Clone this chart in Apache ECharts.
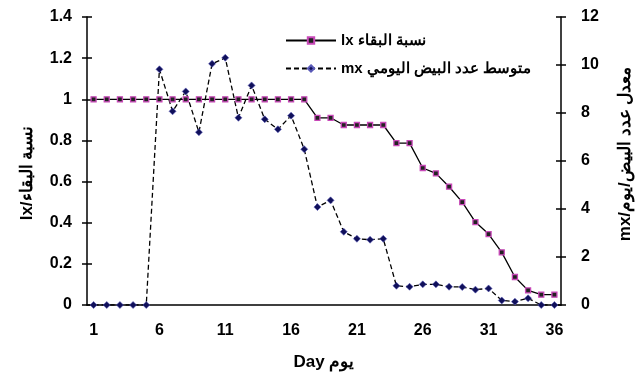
<!DOCTYPE html>
<html><head><meta charset="utf-8">
<script src="https://cdn.jsdelivr.net/npm/echarts@6/dist/echarts.min.js"></script>
<style>html,body{margin:0;padding:0;background:#fff}#c{width:639px;height:377px}</style>
</head><body><div id="c"></div>
<script>
var days = [];
for (var d = 1; d <= 36; d++) days.push(String(d));
var lxValues = [1,1,1,1,1,1,1,1,1,1,1,1,1,1,1,1,1,0.91,0.91,0.875,0.875,0.875,0.875,0.787,0.787,0.666,0.64,0.575,0.5,0.403,0.345,0.256,0.136,0.071,0.05,0.05];
var mxValues = [0,0,0,0,0,9.82,8.07,8.9,7.2,10.05,10.3,7.8,9.15,7.74,7.32,7.89,6.49,4.08,4.36,3.05,2.76,2.72,2.76,0.8,0.76,0.86,0.86,0.76,0.75,0.64,0.69,0.19,0.14,0.28,0,0];
var lxName = 'lx نسبة البقاء';
var mxName = 'mx متوسط عدد البيض اليومي';
var xTitle = 'Day يوم';
var yLeftTitle = 'lx/نسبة البقاء';
var yRightTitle = 'mx/معدل عدد البيض/يوم';

var font = 'Arial, "Liberation Sans", sans-serif';
var chart = echarts.init(document.getElementById('c'), null, {renderer: 'canvas'});
var axisLineStyle = {color: '#000', width: 1.5};
var tickStyle = {color: '#000', width: 1.5};
function innerTickAxis(pos, min, max, interval) {
  return {
    type: 'value', min: min, max: max, interval: interval, position: pos,
    axisLine: {show: false},
    axisTick: {show: true, inside: true, length: 5, lineStyle: tickStyle},
    axisLabel: {show: false}, splitLine: {show: false}
  };
}
chart.setOption({
  animation: false,
  backgroundColor: '#fff',
  grid: {left: 87, right: 78, top: 17, bottom: 72, outerBoundsMode: 'none', containLabel: false},
  legend: {
    orient: 'vertical', left: 285, top: 33, padding: 0, itemWidth: 50, itemHeight: 8, itemGap: 13,
    textStyle: {fontFamily: font, fontWeight: 'bold', fontSize: 15, color: '#000'},
    data: [lxName, mxName]
  },
  xAxis: {
    type: 'category', data: days, boundaryGap: true,
    name: xTitle, nameLocation: 'middle', nameGap: 49,
    nameTextStyle: {fontFamily: font, fontWeight: 'bold', fontSize: 17, color: '#000'},
    axisLine: {lineStyle: axisLineStyle},
    axisTick: {interval: 0, length: 5, lineStyle: tickStyle},
    axisLabel: {interval: 4, margin: 18, fontFamily: font, fontWeight: 'bold', fontSize: 16, color: '#000'},
    splitLine: {show: false}
  },
  yAxis: [{
    type: 'value', min: 0, max: 1.4, interval: 0.2, position: 'left',
    name: yLeftTitle, nameLocation: 'middle', nameGap: 51, nameRotate: 90,
    nameTextStyle: {fontFamily: font, fontWeight: 'bold', fontSize: 17, color: '#000', padding: [0, 24, 0, 0]},
    axisLine: {show: true, lineStyle: axisLineStyle},
    axisTick: {show: true, length: 5, lineStyle: tickStyle},
    axisLabel: {margin: 15, fontFamily: font, fontWeight: 'bold', fontSize: 16, color: '#000'},
    splitLine: {show: false}
  }, {
    type: 'value', min: 0, max: 12, interval: 2, position: 'right',
    name: yRightTitle, nameLocation: 'middle', nameGap: 56, nameRotate: 90,
    nameTextStyle: {fontFamily: font, fontWeight: 'bold', fontSize: 17, color: '#000', padding: [0, 0, 0, 14]},
    axisLine: {show: true, lineStyle: axisLineStyle},
    axisTick: {show: true, length: 5, lineStyle: tickStyle},
    axisLabel: {margin: 20, fontFamily: font, fontWeight: 'bold', fontSize: 16, color: '#000'},
    splitLine: {show: false}
  },
  innerTickAxis('left', 0, 1.4, 0.2),
  innerTickAxis('right', 0, 12, 2)],
  series: [{
    name: mxName, type: 'line', yAxisIndex: 1, data: mxValues,
    symbol: 'diamond', symbolSize: 7, showAllSymbol: true,
    lineStyle: {color: '#000', width: 1.3, type: [5, 3]},
    itemStyle: {color: '#10105a', borderColor: '#5a5ab8', borderWidth: 0.6}
  }, {
    name: lxName, type: 'line', yAxisIndex: 0, data: lxValues,
    symbol: 'rect', symbolSize: 5, showAllSymbol: true,
    lineStyle: {color: '#000', width: 1.3},
    itemStyle: {color: '#222', borderColor: '#c848b8', borderWidth: 1.3}
  }]
});
</script></body></html>
